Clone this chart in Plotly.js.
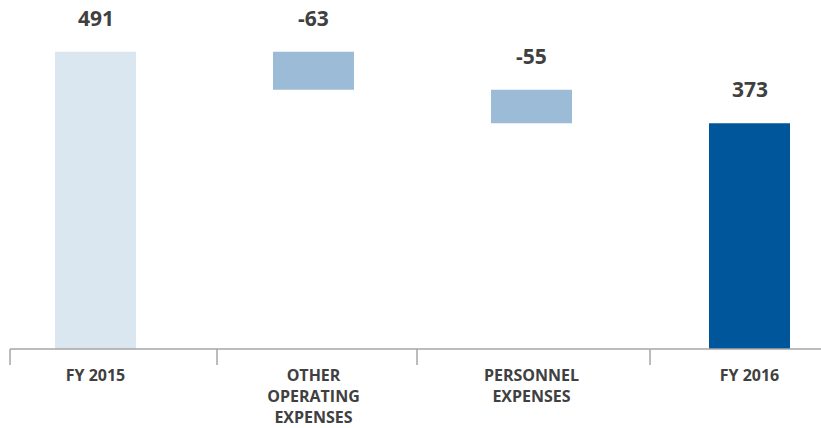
<!DOCTYPE html>
<html>
<head>
<meta charset="utf-8">
<script src="https://cdn.plot.ly/plotly-3.0.1.min.js"></script>
<style>html,body{margin:0;padding:0;background:#fff;}#chart{width:821px;height:428px;}</style>
</head>
<body>
<div id="chart"></div>
<script>
const categories = ["FY 2015", "OTHER<br>OPERATING<br>EXPENSES", "PERSONNEL<br>EXPENSES", "FY 2016"];
const measures = ["absolute", "relative", "relative", "total"];
const values = [491, -63, -55, 373];
const valueLabels = ["491", "-63", "-55", "373"];
const colors = ["#dae6f0", "#9bbbd7", "#9bbbd7", "#00569b"];

// compute bar bases from waterfall logic
const bases = [];
const tops = [];
let running = 0;
values.forEach((v, i) => {
  if (measures[i] === "relative") {
    bases.push(running);
    running += v;
    tops.push(Math.max(bases[i], running));
  } else {
    bases.push(0);
    running = v;
    tops.push(v);
  }
});

const xIdx = categories.map((c, i) => i);

const trace = {
  type: "bar",
  x: xIdx,
  y: values,
  base: bases,
  width: 0.3716,
  marker: { color: colors, line: { width: 0 } },
  hoverinfo: "skip"
};

const textColor = "#404040";
const font = "'Open Sans', 'Liberation Sans', sans-serif";

const annotations = xIdx.map((x, i) => ({
  x: x, y: tops[i], xref: "x", yref: "y",
  text: "<b>" + valueLabels[i] + "</b>",
  showarrow: false, yanchor: "middle", yshift: 34,
  font: { family: font, size: 21, color: textColor }
}));

const tickPx = [10, 217, 417, 650];
const W = 821;
const shapes = [
  { type: "line", xref: "paper", yref: "paper", x0: 10 / W, x1: 1, y0: 0, y1: 0,
    line: { color: "#a6a6a6", width: 1.5 } }
].concat(tickPx.map(p => ({
  type: "line", xref: "paper", yref: "paper", x0: p / W, x1: p / W, y0: 0, y1: -16 / 349,
  line: { color: "#a6a6a6", width: 1.5 }
})));

const layout = {
  width: 821, height: 428,
  margin: { l: 0, r: 0, t: 0, b: 79 },
  paper_bgcolor: "#ffffff", plot_bgcolor: "#ffffff",
  showlegend: false,
  xaxis: {
    range: [-95.5 / 218, (821 - 95.5) / 218],
    tickmode: "array", tickvals: xIdx, ticktext: categories.map(c => "<b>" + c + "</b>"),
    showgrid: false, zeroline: false, showline: false, ticks: "",
    ticklabelstandoff: 15,
    tickfont: { family: font, size: 16, color: textColor },
    fixedrange: true
  },
  yaxis: {
    range: [0, 349 / 0.6055],
    visible: false, showgrid: false, zeroline: false, fixedrange: true
  },
  annotations: annotations,
  shapes: shapes
};

Plotly.newPlot("chart", [trace], layout, { displayModeBar: false, staticPlot: true });
</script>
</body>
</html>
